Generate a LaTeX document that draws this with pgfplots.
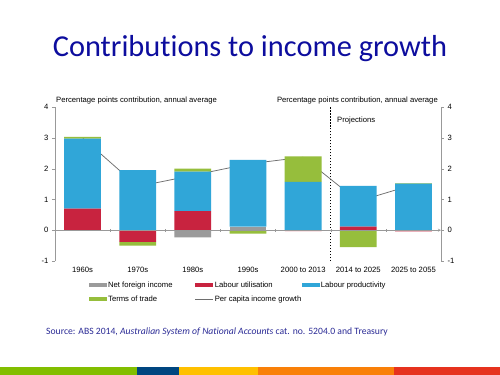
\documentclass[border=0pt]{standalone}
\usepackage{pgfplots}
\pgfplotsset{compat=1.18}
\usepackage{fontspec}
\setmainfont{Liberation Sans}
\newfontfamily\calibri[Ligatures=NoCommon]{Carlito}
\definecolor{nfi}{HTML}{9B9B9B}
\definecolor{lu}{HTML}{C8233F}
\definecolor{lp}{HTML}{30A6D8}
\definecolor{tot}{HTML}{96BE3C}
\definecolor{pci}{HTML}{6E6E6E}
\definecolor{titleblue}{HTML}{0D0D9E}
\definecolor{srcblue}{HTML}{2B2B96}
\definecolor{sgreen}{HTML}{82BE00}
\definecolor{sblue}{HTML}{004680}
\definecolor{syellow}{HTML}{FFC000}
\definecolor{sorange}{HTML}{F98008}
\definecolor{sred}{HTML}{E6321E}
\pgfplotsset{
  myax/.style={
    scale only axis, width=386bp, height=154bp,
    at={(55bp,-261bp)}, anchor=south west,
    xmin=-0.5, xmax=6.5, ymin=-1, ymax=4,
    ybar stacked, bar width=0.667,
    ytick={-1,0,1,2,3,4},
    tick align=outside, major tick length=3bp,
    tick style={color=gray!80},
    axis line style={color=gray!80,-},
    tick label style={font=\fontsize{7.7}{9}\selectfont},
    /pgf/number format/assume math mode=true,
  }
}
\begin{document}
\begin{tikzpicture}
\path[use as bounding box, fill=white] (0bp,0bp) rectangle (500bp,-375bp);
% negative parts
\begin{axis}[myax,
  axis y line*=right,
  axis x line*=bottom, x axis line style={draw=none},
  xtick={0,1,2,3,4,5,6},
  xticklabels={1960s,1970s,1980s,1990s,2000 to 2013,2014 to 2025,2025 to 2055},
  xtick style={draw=none},
]
\addplot[fill=nfi, draw=none] coordinates {(0,0) (1,0) (2,-0.23) (3,-0.02) (4,0) (5,-0.02) (6,0)};
\addplot[fill=lu, draw=none] coordinates {(0,0) (1,-0.38) (2,0) (3,0) (4,-0.03) (5,0) (6,-0.04)};
\addplot[fill=tot, draw=none] coordinates {(0,0) (1,-0.12) (2,0) (3,-0.09) (4,0) (5,-0.53) (6,0)};
\end{axis}
% positive parts
\begin{axis}[myax, axis on top,
  axis y line*=left,
  axis x line=middle,
  xtick={0.5,1.5,2.5,3.5,4.5,5.5}, xticklabels={},
  legend columns=3,
  legend style={draw=none, fill=none, at={(0.088,-0.128)}, anchor=north west,
    inner sep=0pt, font=\fontsize{7.7}{9}\selectfont,
    nodes={inner sep=1bp, anchor=west},
    /tikz/every even column/.append style={column sep=0pt},
    row sep=5bp},
  legend cell align=left,
]
\addplot[fill=nfi, draw=none, legend image code/.code={\fill[nfi] (0bp,-2bp) rectangle (18bp,2bp);}] coordinates {(0,0) (1,0) (2,0) (3,0.12) (4,0) (5,0) (6,0)};
\addlegendentry{\makebox[86bp][l]{Net foreign income}}
\addplot[fill=lu, draw=none, legend image code/.code={\fill[lu] (0bp,-2bp) rectangle (18bp,2bp);}] coordinates {(0,0.70) (1,0) (2,0.62) (3,0) (4,0) (5,0.12) (6,0)};
\addlegendentry{\makebox[86bp][l]{Labour utilisation}}
\addplot[fill=lp, draw=none, legend image code/.code={\fill[lp] (0bp,-2bp) rectangle (18bp,2bp);}] coordinates {(0,2.27) (1,1.95) (2,1.28) (3,2.16) (4,1.57) (5,1.32) (6,1.51)};
\addlegendentry{\makebox[86bp][l]{Labour productivity}}
\addplot[fill=tot, draw=none, legend image code/.code={\fill[tot] (0bp,-2bp) rectangle (18bp,2bp);}] coordinates {(0,0.06) (1,0) (2,0.10) (3,0) (4,0.83) (5,0) (6,0.02)};
\addlegendentry{\makebox[86bp][l]{Terms of trade}}
\addplot[stack plots=false, sharp plot, draw=pci, line width=0.75pt, fill=none, mark=none,
  legend image code/.code={\draw[pci, line width=0.6pt] (0bp,0bp) -- (18bp,0bp);}] coordinates {(0,3.0) (1,1.42) (2,1.78) (3,2.15) (4,2.37) (5,0.94) (6,1.48)};
\addlegendentry{\makebox[86bp][l]{Per capita income growth}}
\draw[black, line width=0.5pt, dash pattern=on 1.5pt off 1.5pt] (axis cs:4.5,-1) -- (axis cs:4.5,4);
\end{axis}
\node[anchor=base, font=\calibri\fontsize{30.5}{36}\selectfont, text=titleblue, inner sep=0pt] at (250bp,-56bp) {Contributions to income growth};
\node[anchor=west, font=\fontsize{7.7}{9}\selectfont, inner sep=0pt] at (56bp,-100.7bp) {Percentage points contribution, annual average};
\node[anchor=east, font=\fontsize{7.7}{9}\selectfont, inner sep=0pt] at (438bp,-100.7bp) {Percentage points contribution, annual average};
\node[anchor=west, font=\fontsize{7.7}{9}\selectfont, inner sep=0pt] at (337bp,-120.7bp) {Projections};
\node[anchor=base west, font=\calibri\fontsize{9.7}{11}\selectfont, text=srcblue, inner sep=0pt] at (46bp,-334bp) {Source: ABS 2014, \textit{Australian System of National Accounts} cat. no. 5204.0 and Treasury};
\fill[sgreen] (0bp,-366.7bp) rectangle (137bp,-375bp);
\fill[sblue] (137bp,-366.7bp) rectangle (179bp,-375bp);
\fill[syellow] (179bp,-366.7bp) rectangle (258bp,-375bp);
\fill[sorange] (258bp,-366.7bp) rectangle (394bp,-375bp);
\fill[sred] (394bp,-366.7bp) rectangle (500bp,-375bp);
\end{tikzpicture}
\end{document}
